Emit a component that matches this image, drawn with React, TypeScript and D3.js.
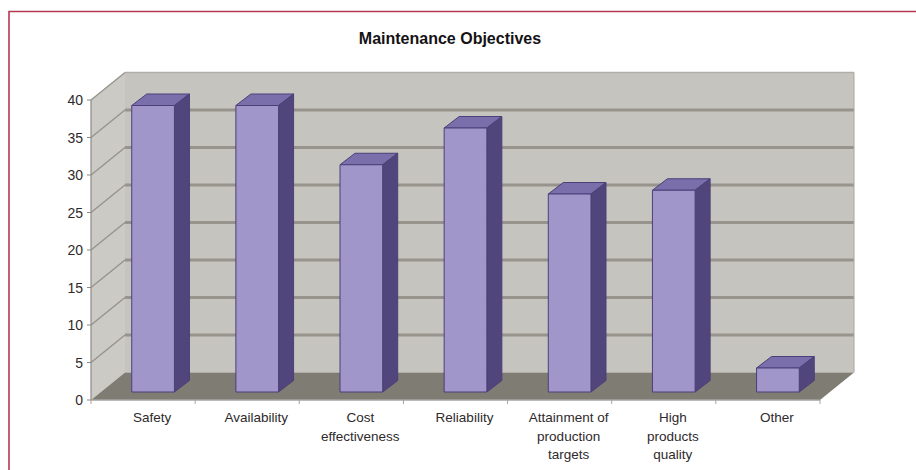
import React from "react";
import * as d3 from "d3";

const chartTitle = "Maintenance Objectives";
const categories = ["Safety", "Availability", "Cost effectiveness", "Reliability", "Attainment of production targets", "High products quality", "Other"];
const categoryLines = [["Safety"], ["Availability"], ["Cost", "effectiveness"], ["Reliability"], ["Attainment of", "production", "targets"], ["High", "products", "quality"], ["Other"]];
const values = [38.2, 38.2, 30.3, 35.2, 26.4, 26.9, 3.2];
const yTicks = [0, 5, 10, 15, 20, 25, 30, 35, 40];

const WIDTH = 916;
const HEIGHT = 470;
// Oblique projection of the 3D box: wall depth and bar depth.
const DEPTH_X = 34;
const DEPTH_Y = -27.5;
const BAR_DX = 15;
const BAR_DY = -11.5;
// Bars stand partway back on the floor.
const BAR_OFFSET_X = 9.5;
const BAR_OFFSET_Y = -8;

const x = d3.scaleBand<string>().domain(categories).range([91, 821]).paddingInner(0.59).paddingOuter(0.3);
const bandStep = d3.scaleBand<string>().domain(categories).range([91, 820]);
const y = d3.scaleLinear().domain([0, 40]).range([400, 100]);

const poly = (pts: [number, number][]) => d3.line()(pts) + "Z";

const COLORS = {
  frame: "#b23a50",
  wall: "#c6c4bf",
  sideWall: "#cbcac5",
  floor: "#7f7c74",
  grid: "#96948c",
  front: "#a096ca",
  top: "#7a6eab",
  side: "#51467c",
  barEdge: "#4b4078",
  text: "#2e2a2c",
};

export default function App() {
  const x0 = 91;
  const x1 = 820;
  const y0 = y(0);
  const yTop = y(40);
  return (
    <svg
      width={WIDTH}
      height={HEIGHT}
      viewBox={`0 0 ${WIDTH} ${HEIGHT}`}
      style={{ position: "absolute", left: 0, top: 0, background: "#fff", fontFamily: "'Liberation Sans', Arial, sans-serif" }}
    >
      {/* Outer frame, open to the right and below */}
      <path d="M9 470V11.5H916" fill="none" stroke={COLORS.frame} strokeWidth={1.6} />

      <text x={450} y={43.5} textAnchor="middle" fontSize={16} fontWeight={700} fill="#141214">
        {chartTitle}
      </text>

      {/* Back wall, side wall and floor */}
      <path d={poly([[x0 + DEPTH_X, yTop + DEPTH_Y], [x1 + DEPTH_X, yTop + DEPTH_Y], [x1 + DEPTH_X, y0 + DEPTH_Y], [x0 + DEPTH_X, y0 + DEPTH_Y]])} fill={COLORS.wall} />
      <path d={poly([[x0, yTop], [x0 + DEPTH_X, yTop + DEPTH_Y], [x0 + DEPTH_X, y0 + DEPTH_Y], [x0, y0]])} fill={COLORS.sideWall} />
      <path d={poly([[x0, y0], [x0 + DEPTH_X, y0 + DEPTH_Y], [x1 + DEPTH_X, y0 + DEPTH_Y], [x1, y0]])} fill={COLORS.floor} />

      {/* Gridlines running along the side wall and the back wall */}
      {yTicks.filter((t) => t > 0).map((t) => (
        <g key={t} fill="none" stroke={COLORS.grid}>
          <line x1={x0} y1={y(t)} x2={x0 + DEPTH_X} y2={y(t) + DEPTH_Y} strokeWidth={1.4} />
          {t < 40 && <line x1={x0 + DEPTH_X} y1={y(t) + DEPTH_Y} x2={x1 + DEPTH_X} y2={y(t) + DEPTH_Y} strokeWidth={3} />}
        </g>
      ))}
      <line x1={x0 + DEPTH_X} y1={yTop + DEPTH_Y} x2={x1 + DEPTH_X} y2={yTop + DEPTH_Y} stroke="#b0aeaa" strokeWidth={1.5} />
      <line x1={x1 + DEPTH_X} y1={yTop + DEPTH_Y} x2={x1 + DEPTH_X} y2={y0 + DEPTH_Y} stroke="#a8a6a0" strokeWidth={1} />

      {/* Value axis with ticks and labels */}
      <line x1={x0} y1={yTop} x2={x0} y2={y0} stroke="#8c8a88" strokeWidth={1.2} />
      {yTicks.map((t) => (
        <g key={t}>
          <line x1={x0 - 4} y1={y(t)} x2={x0} y2={y(t)} stroke="#8c8a88" />
          <text x={83} y={y(t) + 5} textAnchor="end" fontSize={14} fill={COLORS.text}>{t}</text>
        </g>
      ))}

      {/* Category axis with ticks and wrapped labels */}
      <line x1={x0} y1={y0} x2={x1} y2={y0} stroke="#a5a3a0" strokeWidth={1.4} />
      {[0, ...categories.map((_, i) => i + 1)].map((i) => (
        <line key={i} x1={x0 + i * bandStep.step()} y1={y0} x2={x0 + i * bandStep.step()} y2={y0 + 4} stroke="#a5a3a0" />
      ))}
      {categories.map((c, i) => (
        <text key={c} textAnchor="middle" fontSize={13.5} fill={COLORS.text}>
          {categoryLines[i].map((line, j) => (
            <tspan key={j} x={(bandStep(c) as number) + bandStep.bandwidth() / 2 + 9} y={422 + j * 18.5}>{line}</tspan>
          ))}
        </text>
      ))}

      {/* Bars: front, top and side faces */}
      {categories.map((c, i) => {
        const l = (x(c) as number) + BAR_OFFSET_X;
        const r = l + x.bandwidth();
        const b = y0 + BAR_OFFSET_Y;
        const t = y(values[i]) + BAR_OFFSET_Y;
        return (
          <g key={c} stroke={COLORS.barEdge} strokeWidth={1} strokeLinejoin="round">
            <path d={poly([[l, t], [l + BAR_DX, t + BAR_DY], [r + BAR_DX, t + BAR_DY], [r, t]])} fill={COLORS.top} />
            <path d={poly([[r, t], [r + BAR_DX, t + BAR_DY], [r + BAR_DX, b + BAR_DY], [r, b]])} fill={COLORS.side} />
            <rect x={l} y={t} width={r - l} height={b - t} fill={COLORS.front} />
          </g>
        );
      })}
    </svg>
  );
}
